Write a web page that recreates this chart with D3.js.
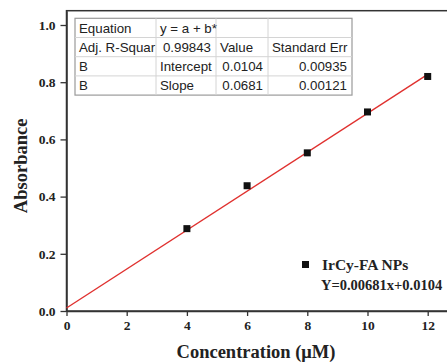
<!DOCTYPE html>
<html><head><meta charset="utf-8">
<script src="https://cdn.jsdelivr.net/npm/d3@7"></script>
<style>body{margin:0;background:#fff}svg{display:block}</style>
</head><body>
<script>
const concentrations = [4, 6, 8, 10, 12];
const absorbance = [0.288, 0.438, 0.553, 0.696, 0.820];
const fitIntercept = 0.0104;
const fitSlope = 0.0681;
const fitRange = [0, 12];
const xTicks = [0, 2, 4, 6, 8, 10, 12];
const yTicks = [0.0, 0.2, 0.4, 0.6, 0.8, 1.0];
const tableRows = [
  ["Equation", "y = a + b*", "", ""],
  ["Adj. R-Squar", "0.99843", "Value", "Standard Err"],
  ["B", "Intercept", "0.0104", "0.00935"],
  ["B", "Slope", "0.0681", "0.00121"]
];
const legendLabel = "IrCy-FA NPs";
const legendEquation = "Y=0.00681x+0.0104";

const W = 447, H = 364;
const m = {left: 66.5, top: 10.7, bottom: 311};
const svg = d3.select("body").append("svg").attr("width", W).attr("height", H);
const x = d3.scaleLinear().domain([0, 13]).range([m.left, m.left + 13 * 30.1]);
const y = d3.scaleLinear().domain([0, 1.05]).range([m.bottom, m.top]);

const serif = "'Liberation Serif','Times New Roman',serif";
const sans = "'Liberation Sans',Arial,sans-serif";
const axCol = "#333";

// frame
svg.append("rect").attr("x", m.left).attr("y", m.top)
  .attr("width", x(13) - m.left).attr("height", m.bottom - m.top)
  .attr("fill", "none").attr("stroke", axCol).attr("stroke-width", 1.5);

// axes
const xAxis = svg.append("g").attr("transform", `translate(0,${m.bottom})`)
  .call(d3.axisBottom(x).tickValues(xTicks).tickFormat(d3.format("d")).tickSizeOuter(0).tickSizeInner(5).tickPadding(4));
const yAxis = svg.append("g").attr("transform", `translate(${m.left},0)`)
  .call(d3.axisLeft(y).tickValues(yTicks).tickFormat(d3.format(".1f")).tickSizeOuter(0).tickSizeInner(6).tickPadding(5));
[xAxis, yAxis].forEach(g => {
  g.select(".domain").attr("stroke", axCol).attr("stroke-width", 1.5);
  g.selectAll(".tick line").attr("stroke", axCol).attr("stroke-width", 1.3);
  g.selectAll(".tick text").attr("fill", "#222").style("font-family", serif)
    .style("font-weight", "bold").style("font-size", "13.5px");
});

// axis titles
svg.append("text").attr("x", 256).attr("y", 358).attr("text-anchor", "middle")
  .style("font-family", serif).style("font-weight", "bold").style("font-size", "18.5px")
  .attr("fill", "#222").text("Concentration (\u03bcM)");
svg.append("text").attr("transform", `translate(27,${(m.top + m.bottom) / 2 + 5}) rotate(-90)`)
  .attr("text-anchor", "middle")
  .style("font-family", serif).style("font-weight", "bold").style("font-size", "18.5px")
  .attr("fill", "#222").text("Absorbance");

// fit line
svg.append("line")
  .attr("x1", x(fitRange[0])).attr("y1", y(fitIntercept + fitSlope * fitRange[0]))
  .attr("x2", x(fitRange[1])).attr("y2", y(fitIntercept + fitSlope * fitRange[1]))
  .attr("stroke", "#e0312f").attr("stroke-width", 1.4);

// points
const s = 7;
svg.selectAll("rect.pt").data(concentrations).enter().append("rect").attr("class", "pt")
  .attr("x", d => x(d) - s / 2).attr("y", (d, i) => y(absorbance[i]) - s / 2)
  .attr("width", s).attr("height", s).attr("fill", "#111");

// table
const colX = [75, 156, 216, 268, 352];
const rowY0 = 18.3, rowH = 19.2;
const tbl = svg.append("g");
tbl.append("rect").attr("x", colX[0]).attr("y", rowY0).attr("width", colX[4] - colX[0])
  .attr("height", rowH * 4).attr("fill", "#fff").attr("stroke", "#9a9a9a").attr("stroke-width", 1.2);
for (let i = 1; i < 4; i++) {
  tbl.append("line").attr("x1", colX[0]).attr("x2", colX[4])
    .attr("y1", rowY0 + rowH * i).attr("y2", rowY0 + rowH * i).attr("stroke", "#d4d4d4");
  tbl.append("line").attr("x1", colX[i]).attr("x2", colX[i])
    .attr("y1", rowY0).attr("y2", rowY0 + rowH * 4).attr("stroke", "#d4d4d4");
}
const isNum = v => /^[0-9.]+$/.test(v);
tableRows.forEach((row, r) => {
  row.forEach((v, c) => {
    if (!v) return;
    const num = isNum(v) && r > 0;
    tbl.append("text")
      .attr("x", num ? colX[c + 1] - 5 : colX[c] + 4)
      .attr("y", rowY0 + rowH * r + 14.5)
      .attr("text-anchor", num ? "end" : "start")
      .style("font-family", sans).style("font-size", "13.3px").attr("fill", "#222").text(v);
  });
});

// legend
svg.append("rect").attr("x", 302).attr("y", 261).attr("width", s).attr("height", s).attr("fill", "#111");
svg.append("text").attr("x", 322).attr("y", 270)
  .style("font-family", serif).style("font-weight", "bold").style("font-size", "15.5px")
  .attr("fill", "#222").text(legendLabel);
svg.append("text").attr("x", 321).attr("y", 290)
  .style("font-family", serif).style("font-weight", "bold").style("font-size", "14.5px")
  .attr("fill", "#222").text(legendEquation);
</script>
</body></html>
